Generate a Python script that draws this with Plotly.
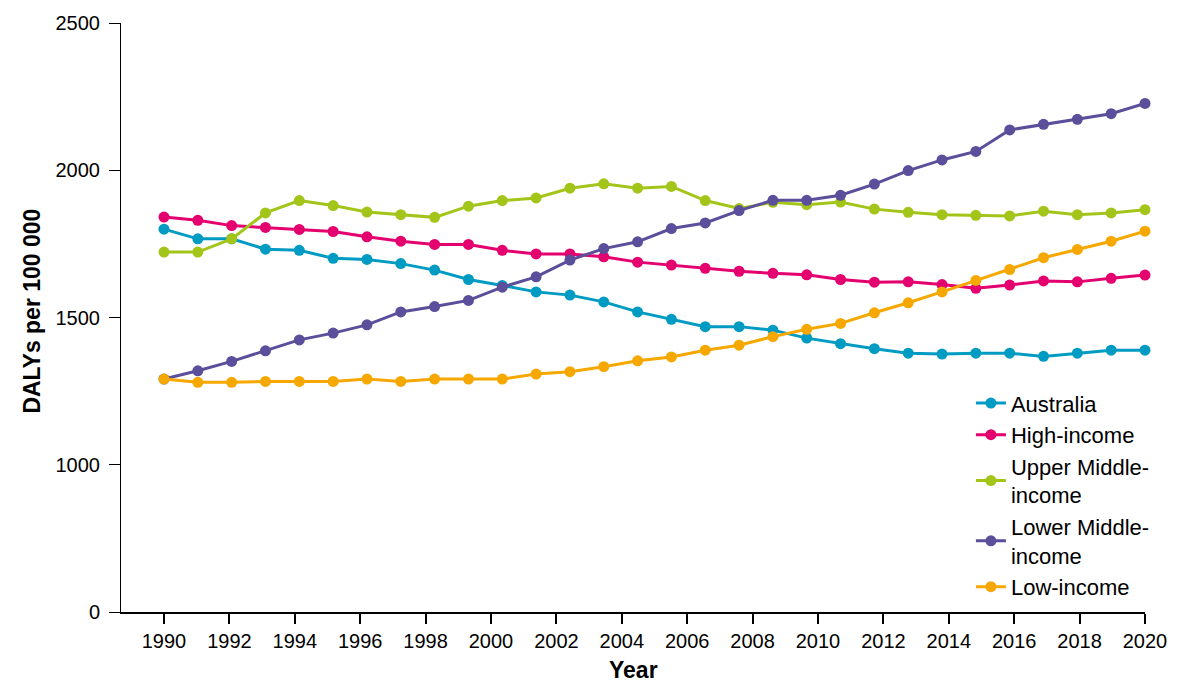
import plotly.graph_objects as go

years = list(range(1990, 2020))

australia = [1800, 1767, 1767, 1732, 1728, 1701, 1697, 1683, 1661, 1629,
             1609, 1587, 1576, 1553, 1519, 1494, 1469, 1469, 1457, 1430,
             1411, 1394, 1379, 1376, 1379, 1379, 1368, 1379, 1389, 1389]
high_income = [1841, 1830, 1812, 1806, 1799, 1792, 1774, 1759, 1748, 1748,
               1728, 1716, 1716, 1706, 1688, 1678, 1667, 1657, 1650, 1645,
               1629, 1620, 1621, 1612, 1599, 1610, 1624, 1621, 1633, 1644]
upper_middle = [1722, 1722, 1767, 1855, 1897, 1880, 1858, 1849, 1840, 1878,
                1897, 1906, 1939, 1954, 1939, 1945, 1897, 1870, 1891, 1883,
                1892, 1868, 1857, 1849, 1847, 1845, 1861, 1849, 1855, 1866]
lower_middle = [1291, 1319, 1351, 1387, 1424, 1447, 1475, 1519, 1537, 1558,
                1603, 1638, 1695, 1734, 1757, 1802, 1821, 1863, 1898, 1898,
                1915, 1953, 1999, 2035, 2064, 2137, 2156, 2173, 2192, 2227]
low_income = [1291, 1280, 1280, 1283, 1283, 1283, 1291, 1283, 1291, 1291,
              1291, 1308, 1316, 1333, 1353, 1366, 1389, 1406, 1435, 1460,
              1480, 1516, 1550, 1587, 1626, 1663, 1703, 1731, 1759, 1793]

series_names = ["Australia", "High-income", "Upper Middle-<br>income",
                "Lower Middle-<br>income", "Low-income"]
series_values = [australia, high_income, upper_middle, lower_middle, low_income]
colors = ["#009BC2", "#E4006E", "#A3C51A", "#5B4E9A", "#F6A800"]

x_tick_labels = [str(y) for y in range(1990, 2021, 2)]
y_tick_labels = ["0", "1000", "1500", "2000", "2500"]
y_tick_vals = [500, 1000, 1500, 2000, 2500]

FONT = "Liberation Sans, Arial, Helvetica, sans-serif"

fig = go.Figure()
for name, vals, col in zip(series_names, series_values, colors):
    fig.add_trace(go.Scatter(
        x=years, y=vals, name=name, mode="lines+markers",
        line=dict(color=col, width=3),
        marker=dict(color=col, size=11),
        cliponaxis=False,
    ))

n_ticks = len(x_tick_labels)
span = years[-1] - years[0]
x_tick_vals = [years[0] + i * span / (n_ticks - 1) for i in range(n_ticks)]

fig.update_layout(
    width=1181, height=691,
    margin=dict(l=121, r=36, t=21, b=79),
    paper_bgcolor="white", plot_bgcolor="white",
    font=dict(family=FONT, size=20, color="black"),
    showlegend=True,
    legend=dict(
        x=0.830, y=0.390, xanchor="left", yanchor="top",
        font=dict(family=FONT, size=22, color="black"),
        bgcolor="rgba(0,0,0,0)",
        itemwidth=30,
    ),
    xaxis=dict(
        range=[years[0] - 43 / 33.83, years[-1]],
        tickvals=x_tick_vals, ticktext=x_tick_labels,
        showgrid=False, zeroline=False,
        showline=True, linecolor="black", linewidth=2,
        ticks="outside", ticklen=10, tickwidth=2, tickcolor="black",
        tickfont=dict(size=20),
    ),
    yaxis=dict(
        range=[500, 2500],
        tickvals=y_tick_vals, ticktext=y_tick_labels,
        showgrid=False, zeroline=False,
        showline=True, linecolor="black", linewidth=1,
        ticks="outside", ticklen=11, tickwidth=1, tickcolor="black",
        tickfont=dict(size=20), ticklabelstandoff=5,
    ),
    annotations=[
        dict(text="<b>Year</b>", xref="paper", yref="paper",
             x=0.5, y=-(670 - 612) / 591, xanchor="center", yanchor="middle",
             showarrow=False, font=dict(size=23)),
        dict(text="<b>DALYs per 100 000</b>", xref="paper", yref="paper",
             x=-(121 - 32) / 1024, y=0.51, xanchor="center", yanchor="middle",
             textangle=-90, showarrow=False, font=dict(size=23)),
    ],
)

fig.write_html("out.html")
